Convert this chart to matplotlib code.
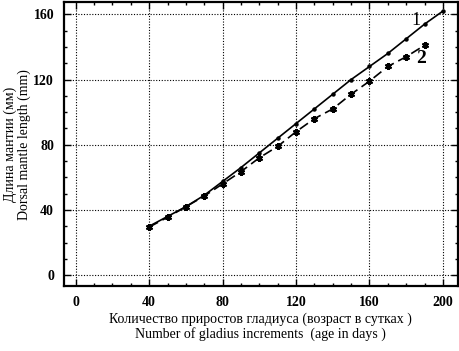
import numpy as np
import matplotlib.pyplot as plt
from matplotlib.ticker import MultipleLocator

# data
age = [40, 50, 60, 70, 80, 90, 100, 110, 120, 130, 140, 150, 160, 170, 180, 190, 200]
length1 = [30, 36, 42, 49, 57.5, 66, 75, 84, 93, 102, 111, 120, 128, 136, 145, 154, 162]
age2 = [40, 50, 60, 70, 80, 90, 100, 110, 120, 130, 140, 150, 160, 170, 180, 190]
length2 = [29.5, 35.5, 42, 48.5, 56, 63.5, 72, 79, 88, 96, 102, 111, 119, 128, 134, 141]

plt.rcParams['font.family'] = ['Liberation Serif', 'DejaVu Serif']

fig = plt.figure(figsize=(4.59, 3.51), dpi=100)
ax = fig.add_axes([0.139, 0.185, 0.858, 0.809])

ax.plot(age, length1, '-', color='black', lw=1.2, marker='o', ms=2.2)
ax.plot(age2, length2, '--', color='black', lw=1.2, dashes=(6, 3),
        marker=(6, 2, 0), ms=5, mew=1.5)

ax.text(185.5, 151, '1', fontsize=13, ha='center', va='bottom')
ax.text(188, 133, '2', fontsize=14, fontweight='bold', ha='center', va='center')

ax.set_xlim(-6.5, 208)
ax.set_ylim(-6.7, 167.5)
ax.xaxis.set_major_locator(MultipleLocator(40))
ax.xaxis.set_minor_locator(MultipleLocator(10))
ax.yaxis.set_major_locator(MultipleLocator(40))
ax.yaxis.set_minor_locator(MultipleLocator(10))
ax.tick_params(which='both', direction='in', top=True, right=True, width=1.0)
ax.tick_params(which='major', length=5, labelsize=10, pad=7)
ax.tick_params(which='minor', length=2.5)
for lab in ax.get_xticklabels() + ax.get_yticklabels():
    lab.set_fontweight('bold')

ax.grid(True, which='major', linestyle=(0, (1, 1.5)), color='black', lw=0.8)
for s in ax.spines.values():
    s.set_linewidth(1.6)

ax.set_xlabel('Количество приростов гладиуса (возраст в сутках )\n'
              'Number of gladius increments  (age in days )',
              fontsize=10, linespacing=1.05, labelpad=3)
ax.set_ylabel('Длина мантии (мм)\nDorsal mantle length (mm)',
              fontsize=10, linespacing=1.0, labelpad=2)

fig.savefig('out.png', dpi=100)
